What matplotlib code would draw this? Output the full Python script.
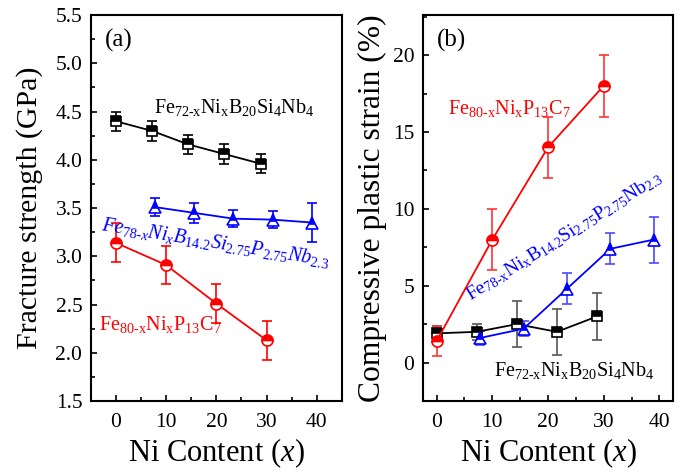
import matplotlib
matplotlib.use("Agg")
import matplotlib.pyplot as plt
from matplotlib.ticker import MultipleLocator

plt.rcParams['font.family'] = ['Liberation Serif', 'DejaVu Serif']
plt.rcParams['mathtext.fontset'] = 'custom'
plt.rcParams['mathtext.rm'] = 'Liberation Serif'
plt.rcParams['mathtext.it'] = 'Liberation Serif:italic'
plt.rcParams['mathtext.bf'] = 'Liberation Serif:bold'

# ---- data: panel (a) fracture strength ----
x_fenib = [0, 7.2, 14.4, 21.6, 28.8]
fs_fenib = [4.40, 4.30, 4.16, 4.06, 3.96]
fs_fenib_err = [0.10, 0.10, 0.10, 0.10, 0.10]

x_fenibsip = [7.8, 15.6, 23.4, 31.2, 39.0]
fs_fenibsip = [3.51, 3.45, 3.39, 3.38, 3.35]
fs_fenibsip_err = [0.09, 0.10, 0.09, 0.09, 0.20]

x_fenipc = [0, 10, 20, 30]
fs_fenipc = [3.14, 2.91, 2.51, 2.13]
fs_fenipc_err = [0.20, 0.20, 0.20, 0.20]

# ---- data: panel (b) compressive plastic strain ----
ps_fenib = [1.9, 2.0, 2.5, 2.0, 3.0]
ps_fenib_err = [0.5, 0.5, 1.5, 1.5, 1.5]

ps_fenibsip = [1.6, 2.2, 4.8, 7.4, 8.0]
ps_fenibsip_err = [0.45, 0.5, 1.0, 1.0, 1.5]

ps_fenipc = [1.4, 8.0, 14.0, 18.0]
ps_fenipc_err = [1.0, 2.0, 2.0, 2.0]

lab_fenib = r'Fe$_{72\text{-}\mathrm{x}}$Ni$_{\mathrm{x}}$B$_{20}$Si$_{4}$Nb$_{4}$'
lab_fenipc = r'Fe$_{80\text{-}\mathrm{x}}$Ni$_{\mathrm{x}}$P$_{13}$C$_{7}$'
lab_fenibsip_it = (r'$\mathit{Fe}_{\mathit{78\text{-}x}}\mathit{Ni}_{\mathit{x}}'
                   r'\mathit{B}_{\mathit{14.2}}\mathit{Si}_{\mathit{2.75}}'
                   r'\mathit{P}_{\mathit{2.75}}\mathit{Nb}_{\mathit{2.3}}$')
lab_fenibsip = (r'Fe$_{78\text{-}\mathrm{x}}$Ni$_{\mathrm{x}}$B$_{14.2}$'
                r'Si$_{2.75}$P$_{2.75}$Nb$_{2.3}$')

fig = plt.figure(figsize=(6.83, 4.72), dpi=100)
ax1 = fig.add_axes([0.1328, 0.1504, 0.3679, 0.8176])
ax2 = fig.add_axes([0.6189, 0.1504, 0.3669, 0.8176])

def style(ax):
    for s in ax.spines.values():
        s.set_linewidth(1.5)
    ax.tick_params(which='both', direction='in', labelsize=15.5, width=1.2)
    ax.tick_params(which='major', length=4.5)
    ax.tick_params(which='minor', length=3)
    ax.tick_params(axis='y', which='major', pad=6)
    ax.tick_params(axis='x', which='major', pad=8.5)
    ax.xaxis.set_major_locator(MultipleLocator(10))
    ax.xaxis.set_minor_locator(MultipleLocator(5))
    ax.set_xlabel(r'Ni Content ($x$)', fontsize=22, labelpad=3)

def series(ax, x, y, e, color, marker, ms, ecolor):
    ax.errorbar(x, y, yerr=e, color=color, ecolor=ecolor, elinewidth=1.2,
                capsize=3.5, capthick=1.2, lw=1.3, marker=marker, ms=ms,
                mfc=color, mfcalt='white', mec=color, mew=1.2,
                fillstyle='top', zorder=3)

# panel (a)
style(ax1)
series(ax1, x_fenib, fs_fenib, fs_fenib_err, 'black', 's', 6.5, 'black')
series(ax1, x_fenibsip, fs_fenibsip, fs_fenibsip_err, 'blue', '^', 8, 'blue')
series(ax1, x_fenipc, fs_fenipc, fs_fenipc_err, 'red', 'o', 8, 'red')
ax1.set_xlim(-5, 45)
ax1.set_ylim(1.5, 5.5)
ax1.yaxis.set_major_locator(MultipleLocator(0.5))
ax1.yaxis.set_minor_locator(MultipleLocator(0.25))
ax1.yaxis.set_major_formatter(plt.FormatStrFormatter('%.1f'))
ax1.set_ylabel('Fracture strength (GPa)', fontsize=21.5, labelpad=9)
ax1.text(0.055, 0.935, '(a)', transform=ax1.transAxes, fontsize=18, va='center')
ax1.text(7.5, 4.49, lab_fenib, fontsize=14.5, color='black')
ax1.text(-3.0, 3.27, lab_fenibsip_it, fontsize=14.5, color='blue', rotation=-9,
         rotation_mode='anchor')
ax1.text(-3.4, 2.235, lab_fenipc, fontsize=14.5, color='red')

# panel (b)
style(ax2)
series(ax2, x_fenib, ps_fenib, ps_fenib_err, 'black', 's', 6.5, '#555555')
series(ax2, x_fenibsip, ps_fenibsip, ps_fenibsip_err, 'blue', '^', 8, '#4a4aff')
series(ax2, x_fenipc, ps_fenipc, ps_fenipc_err, 'red', 'o', 8, '#ff3333')
ax2.set_xlim(-2.5, 42.5)
ax2.set_ylim(-2.5, 22.6)
ax2.yaxis.set_major_locator(MultipleLocator(5))
ax2.yaxis.set_minor_locator(MultipleLocator(2.5))
ax2.set_ylabel('Compressive plastic strain (%)', fontsize=22.7, labelpad=4)
ax2.text(0.055, 0.935, '(b)', transform=ax2.transAxes, fontsize=18, va='center')
ax2.text(2.0, 16.2, lab_fenipc, fontsize=14.5, color='red')
ax2.text(6.0, 4.0, lab_fenibsip, fontsize=14, color='blue', rotation=32,
         rotation_mode='anchor')
ax2.text(10.3, -0.9, lab_fenib, fontsize=14.5, color='black')

fig.savefig('out.png', dpi=100)
